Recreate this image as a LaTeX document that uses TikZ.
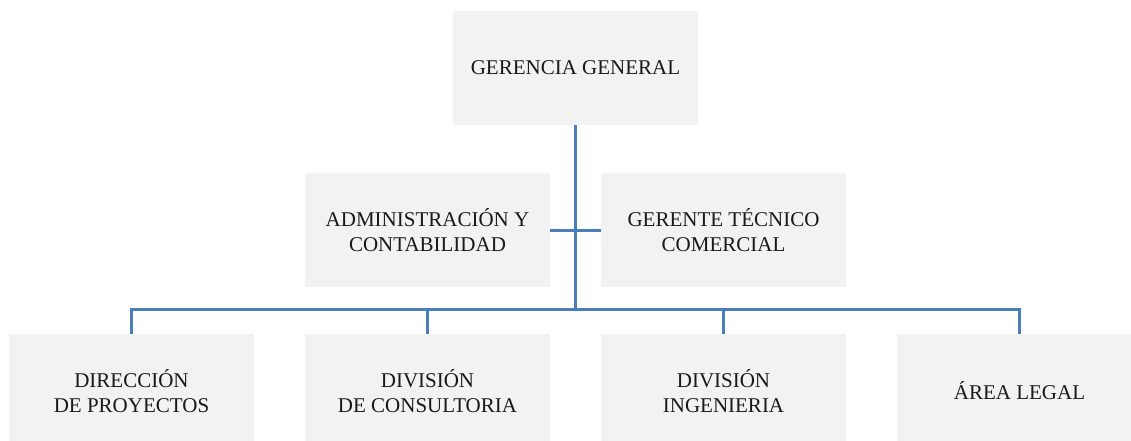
\documentclass[tikz,border=0pt]{standalone}
\usepackage{fontspec}
\setmainfont{Liberation Serif}
\definecolor{boxfill}{HTML}{F2F2F2}
\definecolor{linkblue}{HTML}{4A7EBB}
\begin{document}
\begin{tikzpicture}[x=1pt,y=-1pt,
  orgbox/.style={fill=boxfill, draw=none, minimum width=245pt, minimum height=114pt, inner sep=0pt,
    align=center, font=\fontsize{21}{24.5}\selectfont, text=black!90},
  link/.style={draw=linkblue, line width=3pt}]
\useasboundingbox (0,0) rectangle (1131,441);
\begin{scope}
\clip (0,0) rectangle (1131,441);
\node[orgbox] (gg) at (575.5,68) {GERENCIA GENERAL};
\node[orgbox] (adm) at (427.5,230) {ADMINISTRACIÓN Y\\CONTABILIDAD};
\node[orgbox] (gtc) at (723.5,230) {GERENTE TÉCNICO\\COMERCIAL};
\node[orgbox] (dp) at (131.5,391) {DIRECCIÓN\\DE PROYECTOS};
\node[orgbox] (dc) at (427.5,391) {DIVISIÓN\\DE CONSULTORIA};
\node[orgbox] (di) at (723.5,391) {DIVISIÓN\\INGENIERIA};
\node[orgbox] (al) at (1019.5,391) {ÁREA LEGAL};
\end{scope}
\coordinate (hub) at (575.5,310);
\draw[link] (gg.south) -- (hub);
\draw[link] (adm.east) -- (gtc.west);
\draw[link] (dp.north) -- ++(0,-24) -| (al.north);
\draw[link] (dc.north) -- (dc.north |- hub);
\draw[link] (di.north) -- (di.north |- hub);
\end{tikzpicture}
\end{document}
